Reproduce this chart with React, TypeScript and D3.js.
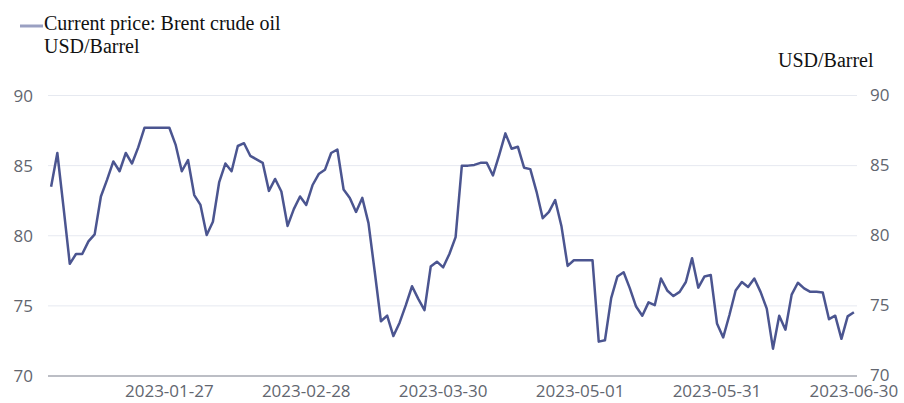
import React from "react";
import * as d3 from "d3";

const seriesName = "Current price: Brent crude oil";
const unitLabel = "USD/Barrel";
const startDate = "2023-01-02";
const endDate = "2023-06-30";
const brent = [
  83.5, 85.9, 82.0, 78.0, 78.7, 78.7, 79.6, 80.1, 82.8, 84.0,
  85.3, 84.6, 85.9, 85.15, 86.3, 87.7, 87.7, 87.7, 87.7, 87.7,
  86.5, 84.6, 85.4, 82.9, 82.2, 80.05, 81.0, 83.8, 85.15, 84.6,
  86.4, 86.6, 85.7, 85.45, 85.2, 83.2, 84.05, 83.15, 80.7, 81.9,
  82.8, 82.2, 83.6, 84.4, 84.7, 85.9, 86.15, 83.3, 82.7, 81.7,
  82.7, 80.9, 77.45, 73.9, 74.3, 72.85, 73.8, 75.05, 76.4, 75.5,
  74.7, 77.8, 78.15, 77.75, 78.7, 79.9, 85.0, 85.0, 85.05, 85.2,
  85.2, 84.3, 85.75, 87.3, 86.2, 86.35, 84.85, 84.75, 83.15, 81.25,
  81.7, 82.55, 80.7, 77.85, 78.25, 78.25, 78.25, 78.25, 72.45, 72.55,
  75.55, 77.1, 77.4, 76.25, 74.95, 74.3, 75.25, 75.05, 76.95, 76.1,
  75.7, 76.0, 76.7, 78.4, 76.3, 77.1, 77.2, 73.75, 72.75, 74.35,
  76.1, 76.7, 76.35, 76.95, 76.0, 74.8, 71.95, 74.3, 73.3, 75.8,
  76.65, 76.25, 76.0, 76.0, 75.95, 74.05, 74.3, 72.65, 74.25, 74.55,
];
const xTickLabels = ["2023-01-27", "2023-02-28", "2023-03-30", "2023-05-01", "2023-05-31", "2023-06-30"];
const yTicks = [70, 75, 80, 85, 90];

// weekday category labels between start and end
function weekdays(a: string, b: string): string[] {
  const out: string[] = [];
  const fmt = d3.utcFormat("%Y-%m-%d");
  const days = d3.utcDay.range(new Date(a + "T00:00:00Z"), d3.utcDay.offset(new Date(b + "T00:00:00Z"), 1));
  for (const d of days) {
    const w = d.getUTCDay();
    if (w !== 0 && w !== 6) out.push(fmt(d));
  }
  return out;
}

export default function App() {
  const W = 904, H = 403;
  const left = 48, right = 857, top = 95.5, bottom = 376;
  const dates = weekdays(startDate, endDate);
  const data = dates.map((d, i) => ({ d, v: brent[i] })).filter((p) => p.v !== undefined);

  const x = d3.scaleBand<string>().domain(dates).range([left, right]).padding(0);
  const bw = x.bandwidth();
  const cx = (d: string) => (x(d) as number) + bw / 2;
  const y = d3.scaleLinear().domain([70, 90]).range([bottom, top]);

  const line = d3
    .line<{ d: string; v: number }>()
    .x((p) => cx(p.d))
    .y((p) => y(p.v));

  const tickFont = "'Open Sans', 'Noto Sans', sans-serif";
  const tickColor = "#62666f";

  return (
    <svg
      width={W}
      height={H}
      style={{ position: "absolute", left: 0, top: 0, background: "#fff" }}
    >
      {yTicks
        .filter((t) => t !== 70)
        .map((t) => (
          <line key={"g" + t} x1={left} x2={right} y1={y(t)} y2={y(t)} stroke="#e6e9f0" strokeWidth={1} />
        ))}
      <line x1={left} x2={right} y1={y(70)} y2={y(70)} stroke="#7a7f8c" strokeWidth={1.2} />

      {yTicks.map((t) => (
        <g key={"yt" + t} fontFamily={tickFont} fontSize={17} fill={tickColor}>
          <text x={33} y={y(t)} dy="0.36em" textAnchor="end">
            {t}
          </text>
          <text x={870} y={y(t) - 1} dy="0.36em" textAnchor="start">
            {t}
          </text>
        </g>
      ))}

      {xTickLabels.map((lab) => (
        <text
          key={lab}
          x={cx(lab)}
          y={397}
          textAnchor="middle"
          fontFamily={tickFont}
          fontSize={17}
          fill={tickColor}
        >
          {lab}
        </text>
      ))}

      <path d={line(data) || ""} fill="none" stroke="#4b5590" strokeWidth={2.5} strokeLinejoin="round" />

      <line x1={20} x2={43} y1={26} y2={26} stroke="#9aa0c2" strokeWidth={3} />
      <g fontFamily="'Liberation Serif', 'Times New Roman', serif" fontSize={20} fill="#111">
        <text x={44} y={30}>{seriesName}</text>
        <text x={44} y={53}>{unitLabel}</text>
        <text x={778} y={67}>{unitLabel}</text>
      </g>
    </svg>
  );
}
